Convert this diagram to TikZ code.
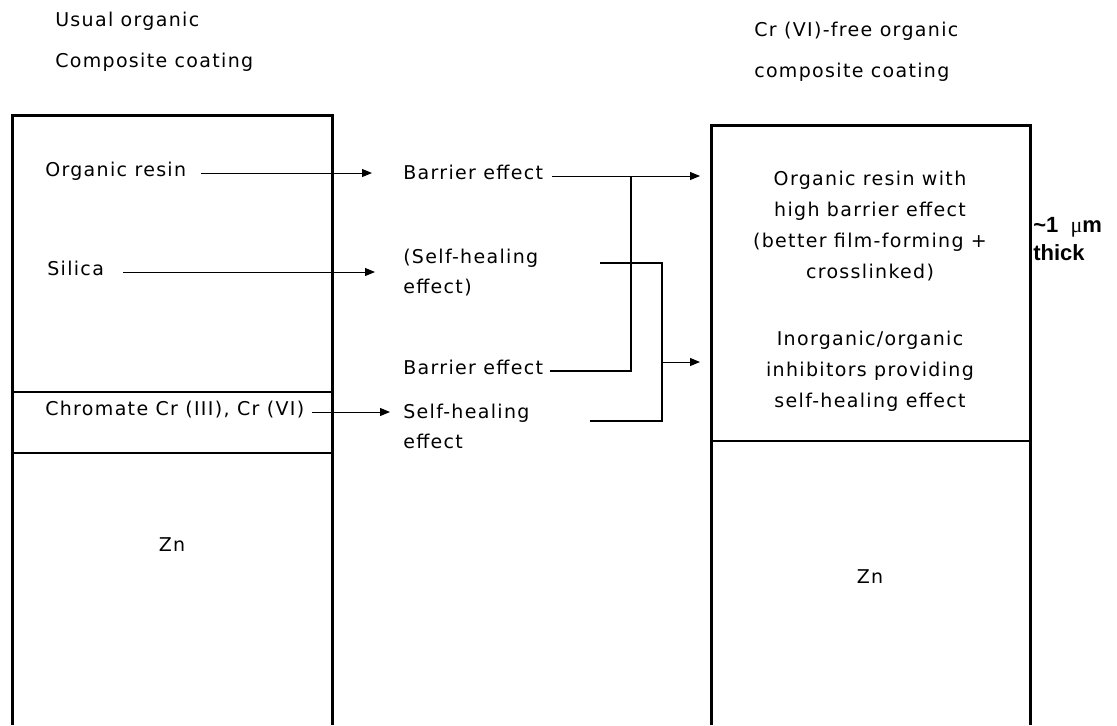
\documentclass[tikz,border=0pt]{standalone}
\usepackage{fontspec}
\setmainfont{DejaVu Sans}[LetterSpace=7]
\newfontfamily\boldfont{Liberation Sans}
\newfontfamily\serifmu{Liberation Serif}
\usetikzlibrary{arrows.meta,calc}
\begin{document}
\begin{tikzpicture}[x=0.75pt,y=-0.75pt,
  font=\fontsize{14.25pt}{22.5pt}\selectfont,
  txt/.style={inner sep=0pt, anchor=west, align=left},
  one/.style={inner sep=0pt, anchor=west, text height=0.74em, text depth=0.24em},
  ctr/.style={inner sep=0pt, align=center},
  outer/.style={line width=2.25pt, line join=miter},
  inner/.style={line width=1.5pt},
  thinarr/.style={line width=0.75pt, -{Triangle[length=7.5pt,width=6pt]}},
  bold/.style={line width=1.5pt}]
\useasboundingbox (0,0) rectangle (1117,725);

% titles
\node[txt, font=\fontsize{14.25pt}{30.75pt}\selectfont] (t1) at (55,41.5) {Usual organic\\Composite coating};
\node[txt, font=\fontsize{14.25pt}{30.75pt}\selectfont] (t2) at (754,51.5) {Cr (VI)-free organic\\composite coating};

% left coating stack
\draw[inner] (12,392) -- (332,392);
\draw[inner] (12,453) -- (332,453);
\draw[outer] (12,725) -- (12,115) -- (332,115) -- (332,725);

% right coating stack
\draw[inner] (711,441) -- (1030,441);
\draw[outer] (711,725) -- (711,125) -- (1030,125) -- (1030,725);
\coordinate (rbox) at (711,125);

% left texts
\node[one] (orgres) at (45,173) {Organic resin};
\node[one] (silica) at (47,272) {Silica};
\node[one] (chrom) at (45,412) {Chromate Cr (III), Cr (VI)};
\node[ctr] (lzn) at (172,545) {Zn};

% middle texts
\node[one] (bar1) at (403,176) {Barrier effect};
\node[txt] (shl1) at (403,273) {(Self-healing\\effect)};
\node[one] (bar2) at (403,371) {Barrier effect};
\node[txt] (shl2) at (403,426) {Self-healing\\effect};

% right texts
\node[ctr, font=\fontsize{14.25pt}{23.25pt}\selectfont] (rres) at (870,226.5)
  {Organic resin with\\high barrier effect\\(better film-forming +\\crosslinked)};
\node[ctr, font=\fontsize{14.25pt}{23.25pt}\selectfont] (rinh) at (870,371)
  {Inorganic/organic\\inhibitors providing\\self-healing effect};
\node[ctr] (rzn) at (870,577) {Zn};
\node[txt, font=\boldfont\bfseries\fontsize{16.5pt}{21pt}\selectfont] (thick) at (1033,239)
  {\textasciitilde 1\ \ {\serifmu\mdseries μ}m\\thick};

% arrows from the usual coating
\draw[thinarr] ($(orgres.east)+(15,0)$) -- ($(orgres.east -| bar1.west)+(-31,0)$);
\draw[thinarr] ($(silica.east)+(19,0)$) -- ($(silica.east -| shl1.west)+(-28,0)$);
\draw[thinarr] ($(chrom.east)+(7,0)$) -- ($(chrom.east -| shl2.west)+(-13,0)$);

% barrier effects merged
\draw[line width=0.75pt] ($(bar1.east)+(9,0)$) -- ($(bar1.east)+(88,0)$);
\draw[thinarr] ($(bar1.east)+(88,0)$) -- ($(bar1.east -| rbox)+(-11,0)$);
\draw[bold] ($(bar2.east)+(7,0)$) -| ($(bar1.east)+(88,0)$);

% self-healing effects merged
\coordinate (b1) at (600,263);
\coordinate (b2) at (590,421);
\coordinate (bj) at (662,362);
\draw[bold] (b1) -- (b1 -| bj) -- (b2 -| bj) -- (b2);
\draw[thinarr] (bj) -- ($(bj -| rbox)+(-11,0)$);
\end{tikzpicture}
\end{document}
